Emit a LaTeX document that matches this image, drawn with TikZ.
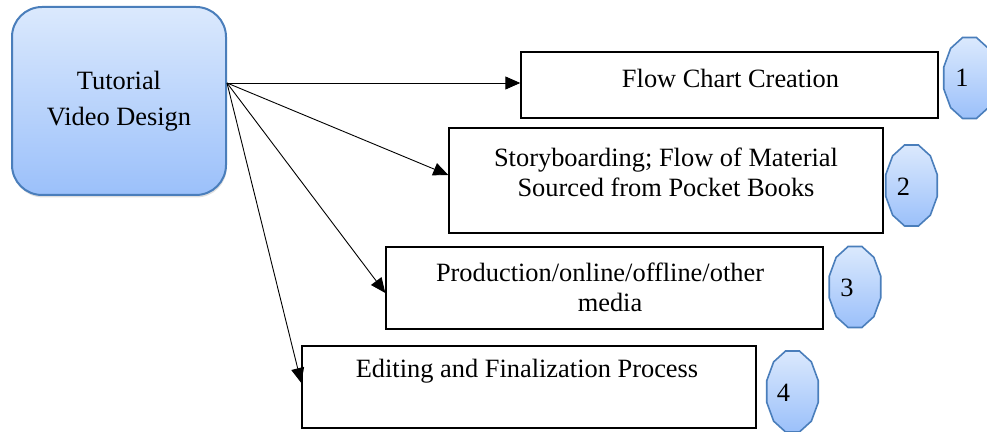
\documentclass[tikz,border=0pt]{standalone}
\usepackage{fontspec}
\setmainfont{Liberation Serif}
\usetikzlibrary{arrows.meta,calc,shadows}
\definecolor{bTop}{RGB}{219,233,253}
\definecolor{bBot}{RGB}{155,192,250}
\definecolor{bEdge}{RGB}{74,126,187}
\tikzset{
 mainbox/.style={draw=bEdge, line width=1pt, rounded corners=15pt, top color=bTop, bottom color=bBot,
   minimum width=107pt, minimum height=94pt, inner sep=0pt, align=center,
   font=\fontsize{13.2}{18}\selectfont,
   drop shadow={opacity=0.25, shadow xshift=0.4pt, shadow yshift=-1.2pt}},
 taskbox/.style={draw=black, line width=0.7pt, fill=white, inner sep=0pt},
 lbl/.style={anchor=base, inner sep=0pt, font=\fontsize{13.2}{15}\selectfont},
 conn/.style={draw=black, line width=0.45pt, -{Triangle[length=7.5pt,width=6.5pt]}},
 dodec/.style={draw=bEdge, line width=0.8pt, top color=bTop, bottom color=bBot},
}
\newcommand\mydodecagon[1]{\draw[dodec, shift={(#1)}] (15:13.33pt and 20.96pt)
  \foreach \a in {45,75,...,345}{ -- (\a:13.33pt and 20.96pt)} -- cycle;}
\begin{document}
\begin{tikzpicture}[x=0.5pt, y=-0.5pt]
\useasboundingbox (0,0) rectangle (987,432);
\clip (0,0) rectangle (987,432);

% main box
\node[mainbox] (main) at (119,101) {Tutorial\\Video Design};

% task boxes
\node[taskbox, minimum width=208.5pt, minimum height=33pt]   (b1) at (729.5,85) {};
\node[taskbox, minimum width=217pt,   minimum height=52.5pt] (b2) at (666,180.5) {};
\node[taskbox, minimum width=218.5pt, minimum height=41pt]   (b3) at (604.5,288) {};
\node[taskbox, minimum width=227pt,   minimum height=41pt]   (b4) at (529,387) {};

\node[lbl] (t1)  at (730.5,88) {Flow Chart Creation};
\node[lbl] (t2a) at (666,167) {Storyboarding; Flow of Material};
\node[lbl] (t2b) at (666,197) {Sourced from Pocket Books};
\node[lbl] (t3a) at (600,282) {Production/online/offline/other};
\node[lbl] (t3b) at (610,312) {media};
\node[lbl] (t4)  at (527,378) {Editing and Finalization Process};

% connectors
\coordinate (src) at ($(main.east)+(0,-18)$);
\draw[conn] (src) -- (src -| b1.west);
\draw[conn] (src) -- ($(b2.west)+(0,-5.5)$);
\draw[conn] (src) -- ($(b3.west)+(0,5)$);
\draw[conn] (src) -- ($(b4.west)+(0,-4)$);

% numbered dodecagons
\coordinate (o1) at (969.5,78);
\coordinate (o2) at (911.5,185.5);
\coordinate (o3) at (855,287);
\coordinate (o4) at (792.5,391.5);
\mydodecagon{o1}
\mydodecagon{o2}
\mydodecagon{o3}
\mydodecagon{o4}
\node[lbl] (d1) at (962,87) {1};
\node[lbl] (d2) at (903.5,196) {2};
\node[lbl] (d3) at (847,297) {3};
\node[lbl] (d4) at (783.5,402) {4};
\end{tikzpicture}
\end{document}
